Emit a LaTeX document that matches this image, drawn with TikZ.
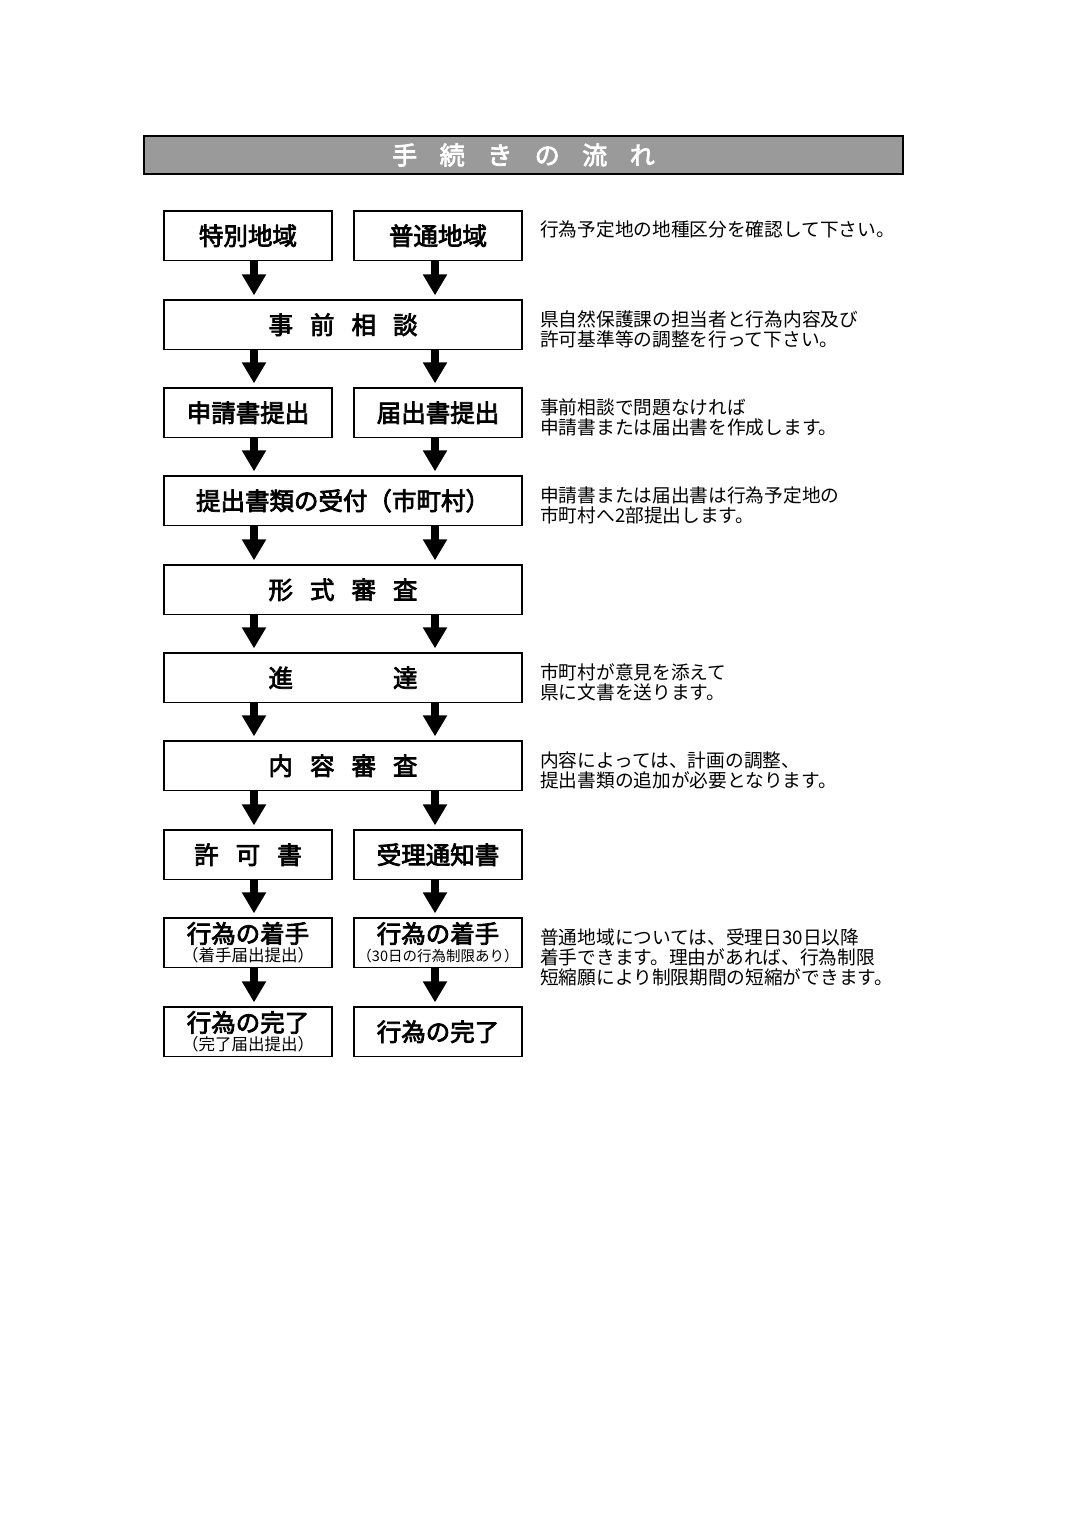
\documentclass[tikz,border=0pt]{standalone}
\usepackage{fontspec}
\newfontfamily\jp{Noto Sans CJK JP}
\newfontfamily\jpm{Noto Sans CJK JP}[FakeBold=3]
\usetikzlibrary{arrows.meta}
\definecolor{titlegray}{HTML}{9A9A9A}
\newcommand\jgap{\hspace{17pt}}
\newcommand\tgap{\hspace{22.5pt}}
\begin{document}
\begin{tikzpicture}[x=1pt,y=-1pt,
  box/.style={draw, line width=1.3pt, minimum height=49.5pt, inner sep=0pt,
    font=\jpm\fontsize{24.5}{28}\selectfont},
  half/.style={box, minimum width=168pt},
  full/.style={box, minimum width=358pt},
  note/.style={anchor=base west, inner sep=0pt, font=\jp\fontsize{18.7}{20}\selectfont},
  bigarrow/.style={line width=8pt, -{Triangle[width=23pt,length=21pt]}, shorten >=4pt}]
\useasboundingbox (0,0) rectangle (1074,1520);
\fill[white] (0,0) rectangle (1074,1520);

% title
\node[draw, line width=1.3pt, fill=titlegray, minimum width=759pt, minimum height=38pt,
  inner sep=0pt, text=white, font=\jpm\fontsize{25}{28}\selectfont]
  (title) at (523.5,155) {手\tgap 続\tgap き\tgap の\tgap 流\tgap れ};

% boxes
\node[half] (a1) at (248,235.75) {特別地域};
\node[half] (b1) at (438,235.75) {普通地域};
\node[full] (c2) at (343,324.75) {事\jgap 前\jgap 相\jgap 談};
\node[half] (a3) at (248,412.75) {申請書提出};
\node[half] (b3) at (438,412.75) {届出書提出};
\node[full] (c4) at (343,500.75) {提出書類の受付（市町村）};
\node[full] (c5) at (343,589.75) {形\jgap 式\jgap 審\jgap 査};
\node[full] (c6) at (343,677.75) {進\hspace{100pt}達};
\node[full] (c7) at (343,765.75) {内\jgap 容\jgap 審\jgap 査};
\node[half] (a8) at (248,854.75) {許\jgap 可\jgap 書};
\node[half] (b8) at (438,854.75) {受理通知書};
\node[half, align=center] (a9) at (248,942.75) {行為の着手\\[-9pt]{\jp\fontsize{16.5}{17}\selectfont （着手届出提出）}};
\node[half, align=center] (b9) at (438,942.75) {行為の着手\\[-9pt]{\jp\fontsize{14.5}{17}\selectfont （30日の行為制限あり）}};
\node[half, align=center] (a10) at (248,1031.75) {行為の完了\\[-9pt]{\jp\fontsize{16.5}{17}\selectfont （完了届出提出）}};
\node[half] (b10) at (438,1031.75) {行為の完了};

% arrows
\coordinate (L) at (254,0);
\coordinate (R) at (435,0);
\draw[bigarrow] (a1.south -| L) -- (c2.north -| L);
\draw[bigarrow] (b1.south -| R) -- (c2.north -| R);
\draw[bigarrow] (c2.south -| L) -- (a3.north -| L);
\draw[bigarrow] (c2.south -| R) -- (b3.north -| R);
\draw[bigarrow] (a3.south -| L) -- (c4.north -| L);
\draw[bigarrow] (b3.south -| R) -- (c4.north -| R);
\draw[bigarrow] (c4.south -| L) -- (c5.north -| L);
\draw[bigarrow] (c4.south -| R) -- (c5.north -| R);
\draw[bigarrow] (c5.south -| L) -- (c6.north -| L);
\draw[bigarrow] (c5.south -| R) -- (c6.north -| R);
\draw[bigarrow] (c6.south -| L) -- (c7.north -| L);
\draw[bigarrow] (c6.south -| R) -- (c7.north -| R);
\draw[bigarrow] (c7.south -| L) -- (a8.north -| L);
\draw[bigarrow] (c7.south -| R) -- (b8.north -| R);
\draw[bigarrow] (a8.south -| L) -- (a9.north -| L);
\draw[bigarrow] (b8.south -| R) -- (b9.north -| R);
\draw[bigarrow] (a9.south -| L) -- (a10.north -| L);
\draw[bigarrow] (b9.south -| R) -- (b10.north -| R);

% notes
\node[note] (t1) at (540,236) {行為予定地の地種区分を確認して下さい。};
\node[note] (t2a) at (540,326) {県自然保護課の担当者と行為内容及び};
\node[note] (t2b) at (540,346) {許可基準等の調整を行って下さい。};
\node[note] (t3a) at (540,414) {事前相談で問題なければ};
\node[note] (t3b) at (540,434) {申請書または届出書を作成します。};
\node[note] (t4a) at (540,502) {申請書または届出書は行為予定地の};
\node[note] (t4b) at (540,522) {市町村へ2部提出します。};
\node[note] (t6a) at (540,679) {市町村が意見を添えて};
\node[note] (t6b) at (540,699) {県に文書を送ります。};
\node[note] (t7a) at (540,767) {内容によっては、計画の調整、};
\node[note] (t7b) at (540,787) {提出書類の追加が必要となります。};
\node[note] (t9a) at (540,944) {普通地域については、受理日30日以降};
\node[note] (t9b) at (540,964) {着手できます。理由があれば、行為制限};
\node[note] (t9c) at (540,984) {短縮願により制限期間の短縮ができます。};
\end{tikzpicture}
\end{document}
